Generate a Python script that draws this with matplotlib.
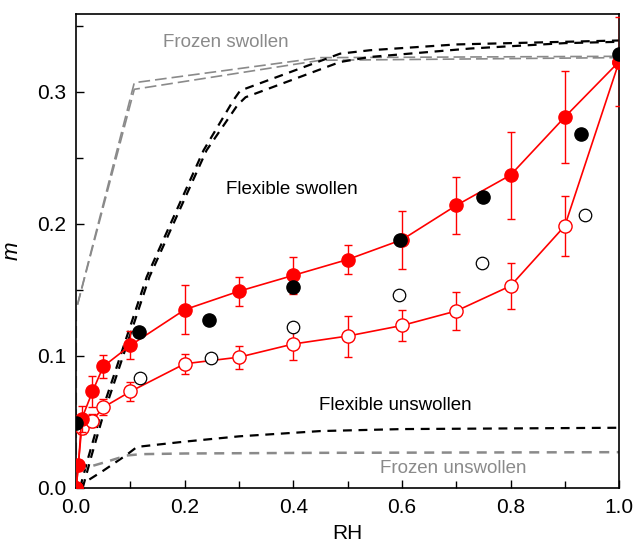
import numpy as np
import matplotlib
matplotlib.use("Agg")
import matplotlib.pyplot as plt
from matplotlib.ticker import MultipleLocator, FormatStrFormatter

plt.rcParams['font.family'] = ['Liberation Sans', 'DejaVu Sans']

# measured sorption, red (with error bars)
rh_fill = [0.0, 0.004, 0.01, 0.03, 0.05, 0.1, 0.2, 0.3, 0.4, 0.5, 0.6, 0.7, 0.8, 0.9, 1.0]
m_fill = [0.0, 0.017, 0.052, 0.073, 0.092, 0.108, 0.135, 0.149, 0.161, 0.173, 0.188, 0.214, 0.237, 0.281, 0.323]
err_fill = [0.0, 0.004, 0.010, 0.012, 0.009, 0.0105, 0.0185, 0.011, 0.014, 0.0107, 0.022, 0.0215, 0.033, 0.035, 0.034]

rh_open = [0.0, 0.01, 0.03, 0.05, 0.1, 0.2, 0.3, 0.4, 0.5, 0.6, 0.7, 0.8, 0.9, 1.0]
m_open = [0.0, 0.045, 0.051, 0.061, 0.073, 0.094, 0.099, 0.109, 0.115, 0.123, 0.134, 0.153, 0.1985, 0.323]
err_open = [0.0, 0.004, 0.005, 0.006, 0.007, 0.0077, 0.0087, 0.0123, 0.0155, 0.012, 0.0143, 0.0175, 0.0225, 0.0]

# black points
rh_blk_fill = [0.0, 0.115, 0.245, 0.4, 0.597, 0.75, 0.929, 1.0]
m_blk_fill = [0.049, 0.118, 0.127, 0.152, 0.188, 0.2205, 0.2685, 0.329]
rh_blk_open = [0.117, 0.248, 0.4, 0.594, 0.747, 0.937]
m_blk_open = [0.083, 0.0985, 0.122, 0.146, 0.1705, 0.207]

# model curves
frz_sw_x1 = [0.0, 0.0, 0.107, 0.45, 1.0]
frz_sw_y1 = [0.0, 0.135, 0.307, 0.326, 0.327]
frz_sw_x2 = [0.0, 0.0, 0.107, 0.45, 1.0]
frz_sw_y2 = [0.0, 0.135, 0.302, 0.324, 0.326]

flx_sw_x1 = [0.007, 0.023, 0.044, 0.075, 0.13, 0.2345, 0.29, 0.302, 0.486, 0.541, 0.7, 1.0]
flx_sw_y1 = [0.0, 0.024, 0.054, 0.092, 0.16, 0.2557, 0.294, 0.301, 0.329, 0.3316, 0.336, 0.339]
flx_sw_x2 = [0.012, 0.028, 0.049, 0.08, 0.135, 0.24, 0.297, 0.312, 0.486, 0.541, 0.7256, 0.9, 1.0]
flx_sw_y2 = [0.0, 0.024, 0.054, 0.092, 0.16, 0.2557, 0.29, 0.296, 0.3227, 0.3265, 0.3329, 0.337, 0.338]

flx_unsw_x = [0.0, 0.05, 0.093, 0.112, 0.2, 0.3, 0.45, 0.6, 0.8, 1.0]
flx_unsw_y = [0.0, 0.013, 0.025, 0.031, 0.035, 0.039, 0.043, 0.0445, 0.045, 0.0455]

frz_unsw_x = [0.0, 0.0, 0.05, 0.093, 0.12, 0.2, 0.45, 1.0]
frz_unsw_y = [0.0, 0.013, 0.019, 0.0245, 0.0255, 0.026, 0.0265, 0.027]

fig = plt.figure(figsize=(6.35, 5.42), dpi=100)
ax = fig.add_axes([0.12, 0.1, 0.855, 0.874])

gray = '#8a8a8a'
ax.plot(frz_sw_x1, frz_sw_y1, color=gray, lw=1.2, dashes=(7, 3))
ax.plot(frz_sw_x2, frz_sw_y2, color=gray, lw=1.2, dashes=(7, 3))
ax.plot(flx_sw_x1, flx_sw_y1, color='black', lw=1.6, dashes=(4, 3))
ax.plot(flx_sw_x2, flx_sw_y2, color='black', lw=1.6, dashes=(4, 3))
ax.plot(flx_unsw_x, flx_unsw_y, color='black', lw=1.6, dashes=(4, 3))
ax.plot(frz_unsw_x, frz_unsw_y, color=gray, lw=1.8, dashes=(4, 3))

ax.errorbar(rh_open, m_open, yerr=err_open, color='red', lw=1.2, elinewidth=1.0,
            capsize=3, capthick=1.0, marker='o', ms=9.5, mfc='white', mec='red',
            mew=1.0, zorder=3)
ax.errorbar(rh_fill, m_fill, yerr=err_fill, color='red', lw=1.2, elinewidth=1.0,
            capsize=3, capthick=1.0, marker='o', ms=9.5, mfc='red', mec='red',
            zorder=4)
ax.plot(rh_blk_open, m_blk_open, 'o', ms=9, mfc='white', mec='black', mew=0.9, zorder=5)
ax.plot(rh_blk_fill, m_blk_fill, 'o', ms=9.5, color='black', zorder=5)

ax.text(0.275, 0.3375, 'Frozen swollen', color=gray, fontsize=13.5, ha='center', va='center')
ax.text(0.397, 0.2263, 'Flexible swollen', color='black', fontsize=13.5, ha='center', va='center')
ax.text(0.588, 0.0627, 'Flexible unswollen', color='black', fontsize=13.5, ha='center', va='center')
ax.text(0.695, 0.0147, 'Frozen unswollen', color=gray, fontsize=13.5, ha='center', va='center')

ax.set_xlim(0, 1.0)
ax.set_ylim(0, 0.359)
ax.xaxis.set_major_locator(MultipleLocator(0.2))
ax.xaxis.set_minor_locator(MultipleLocator(0.1))
ax.yaxis.set_major_locator(MultipleLocator(0.1))
ax.yaxis.set_minor_locator(MultipleLocator(0.05))
ax.tick_params(which='both', direction='in', labelsize=15, width=1.0)
ax.tick_params(which='major', length=6)
ax.tick_params(which='minor', length=5)
ax.tick_params(axis='x', pad=7)
ax.tick_params(axis='y', pad=7)
ax.xaxis.set_major_formatter(FormatStrFormatter('%.1f'))
ax.yaxis.set_major_formatter(FormatStrFormatter('%.1f'))
for s in ax.spines.values():
    s.set_linewidth(1.2)

ax.set_xlabel('RH', fontsize=15)
ax.set_ylabel('m', fontsize=16, style='italic')
ax.xaxis.set_label_coords(0.5, -0.077)
ax.yaxis.set_label_coords(-0.098, 0.5)

fig.savefig('out.png', dpi=100)
